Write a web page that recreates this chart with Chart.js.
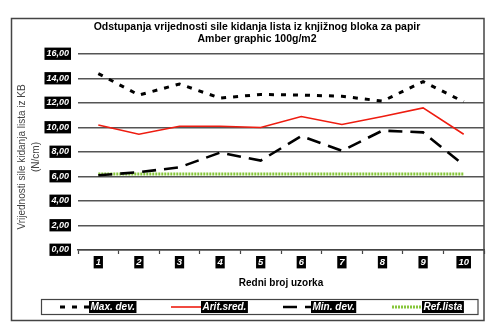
<!DOCTYPE html>
<html>
<head>
<meta charset="utf-8">
<script src="https://cdn.jsdelivr.net/npm/chart.js@4/dist/chart.umd.min.js"></script>
<style>
  html, body { margin: 0; padding: 0; background: #fff; }
  #c { display: block; }
</style>
</head>
<body>
<canvas id="c" width="500" height="333"></canvas>
<script>
// Sample numbers (Redni broj uzorka)
const categories = ['1', '2', '3', '4', '5', '6', '7', '8', '9', '10'];

// Breaking force of book-block sheets, N/cm
const maxDev = [14.4, 12.65, 13.55, 12.4, 12.7, 12.65, 12.55, 12.15, 13.75, 12.1];
const aritSred = [10.2, 9.45, 10.1, 10.1, 10.0, 10.9, 10.25, 10.9, 11.6, 9.45];
const minDev = [6.1, 6.35, 6.75, 7.95, 7.3, 9.3, 8.1, 9.75, 9.6, 6.95];
const refLista = [6.2, 6.2, 6.2, 6.2, 6.2, 6.2, 6.2, 6.2, 6.2, 6.2];

const seriesNames = ['Max. dev.', 'Arit.sred.', 'Min. dev.', 'Ref.lista'];
const titleLines = ['Odstupanja vrijednosti sile kidanja lista iz knjižnog bloka za papir', 'Amber graphic 100g/m2'];
const yTitleLines = ['Vrijednosti sile kidanja lista iz KB', '(N/cm)'];
const xTitle = 'Redni broj uzorka';

const FONT = "'Liberation Sans', Arial, sans-serif";

const decorPlugin = {
  id: 'decor',
  afterDraw(chart) {
    const ctx = chart.ctx;
    ctx.save();

    // outer frame
    ctx.strokeStyle = '#444';
    ctx.lineWidth = 1.5;
    ctx.strokeRect(11.5, 18.5, 472.5, 302);

    // title
    ctx.fillStyle = '#000';
    ctx.textAlign = 'center';
    ctx.textBaseline = 'middle';
    ctx.font = 'bold 10.5px ' + FONT;
    ctx.fillText(titleLines[0], 257, 27);
    ctx.fillText(titleLines[1], 257, 39);

    // y axis title
    ctx.save();
    ctx.translate(22, 157);
    ctx.rotate(-Math.PI / 2);
    ctx.fillStyle = '#444';
    ctx.font = '10px ' + FONT;
    ctx.fillText(yTitleLines[0], 0, 0);
    ctx.fillText(yTitleLines[1], 0, 14);
    ctx.restore();

    // x axis title
    ctx.fillStyle = '#000';
    ctx.font = 'bold 10px ' + FONT;
    ctx.fillText(xTitle, 281, 283);

    // legend
    ctx.strokeStyle = '#444';
    ctx.lineWidth = 1.2;
    ctx.strokeRect(41.5, 299.5, 436.5, 15);
    const items = [
      { x0: 60, x1: 89 },
      { x0: 171, x1: 201 },
      { x0: 283, x1: 311 },
      { x0: 392, x1: 422 }
    ];
    const ly = 307;
    chart.data.datasets.forEach((ds, i) => {
      const it = items[i];
      ctx.save();
      ctx.strokeStyle = ds.borderColor;
      ctx.lineWidth = ds.borderWidth;
      ctx.setLineDash(ds.borderDash || []);
      ctx.beginPath();
      ctx.moveTo(it.x0, ly);
      ctx.lineTo(it.x1, ly);
      ctx.stroke();
      ctx.restore();
      ctx.font = 'bold italic 10px ' + FONT;
      const w = ctx.measureText(ds.label).width;
      ctx.fillStyle = '#000';
      ctx.fillRect(it.x1, ly - 6, w + 3, 12);
      ctx.fillStyle = '#fff';
      ctx.textAlign = 'left';
      ctx.fillText(ds.label, it.x1 + 1.5, ly + 0.5);
    });

    ctx.restore();
  }
};

new Chart(document.getElementById('c'), {
  type: 'line',
  data: {
    labels: categories,
    datasets: [
      { label: seriesNames[0], data: maxDev, borderColor: '#000', borderWidth: 3, borderDash: [5, 7] },
      { label: seriesNames[1], data: aritSred, borderColor: '#ee1c10', borderWidth: 1.6 },
      { label: seriesNames[2], data: minDev, borderColor: '#000', borderWidth: 2.6, borderDash: [14, 8] },
      { label: seriesNames[3], data: refLista, borderColor: '#86c63a', borderWidth: 3, borderDash: [2, 1] }
    ]
  },
  options: {
    responsive: false,
    animation: false,
    elements: {
      point: { radius: 0, hoverRadius: 0 },
      line: { tension: 0, fill: false, borderCapStyle: 'butt' }
    },
    layout: { padding: { top: 54, right: 16, bottom: 63, left: 0 } },
    plugins: {
      legend: { display: false },
      title: { display: false },
      tooltip: { enabled: false }
    },
    scales: {
      x: {
        offset: true,
        afterFit(scale) { scale.height = 20; },
        grid: {
          offset: true,
          drawOnChartArea: false,
          drawTicks: true,
          tickLength: 4,
          tickWidth: 1.2,
          tickColor: '#444'
        },
        border: { display: true, color: '#444', width: 1.5 },
        ticks: {
          color: '#fff',
          padding: 3,
          maxRotation: 0,
          font: { family: FONT, size: 9.5, weight: 'bold', style: 'italic' },
          showLabelBackdrop: true,
          backdropColor: '#000',
          backdropPadding: { top: 1, bottom: 0, left: 2, right: 2 }
        }
      },
      y: {
        min: 0,
        max: 16,
        afterFit(scale) { scale.width = 78; },
        border: { display: false },
        grid: {
          drawTicks: false,
          color: '#555',
          lineWidth: 1.5
        },
        ticks: {
          stepSize: 2,
          color: '#fff',
          padding: 9,
          font: { family: FONT, size: 9, weight: 'bold', style: 'italic' },
          showLabelBackdrop: true,
          backdropColor: '#000',
          backdropPadding: { top: 1, bottom: 0.5, left: 2, right: 2 },
          callback: (v) => v.toFixed(2).replace('.', ',')
        }
      }
    }
  },
  plugins: [decorPlugin]
});
</script>
</body>
</html>
